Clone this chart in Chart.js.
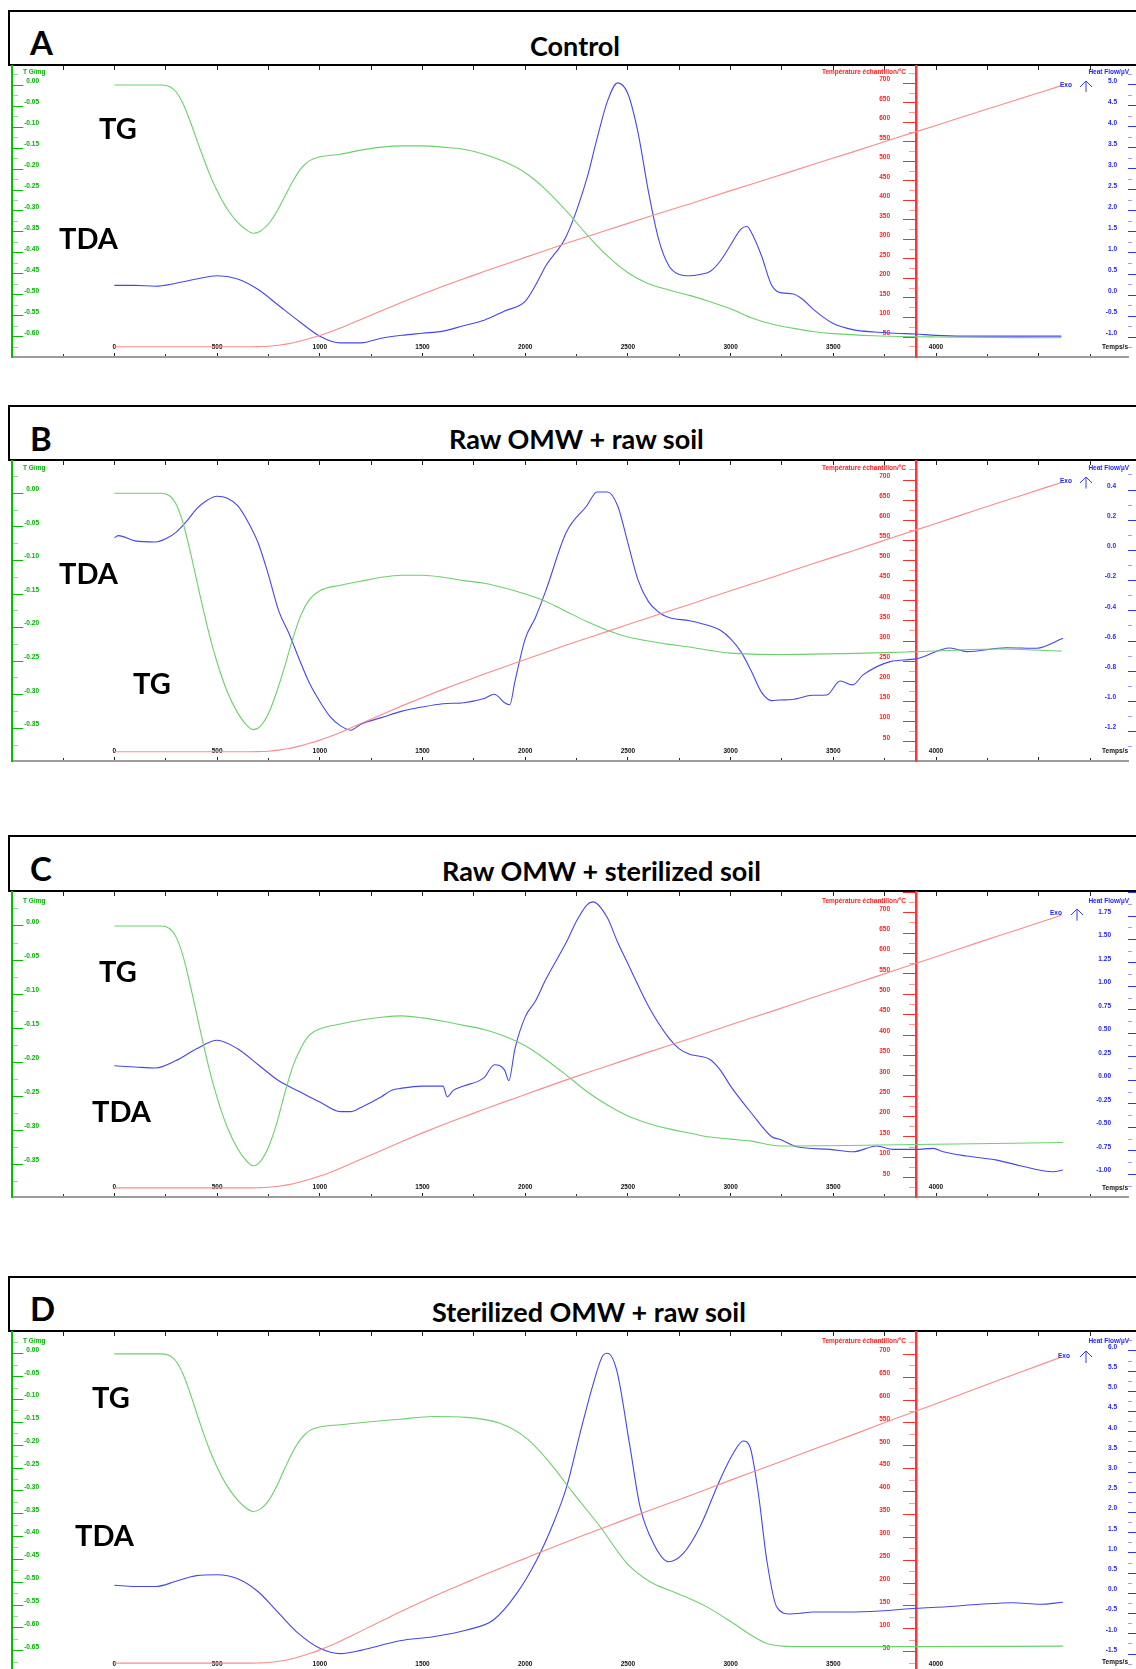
<!DOCTYPE html>
<html>
<head>
<meta charset="utf-8">
<script src="https://cdn.jsdelivr.net/npm/chart.js@4.4.1/dist/chart.umd.min.js"></script>
<style>
  body { margin: 0; width: 1136px; height: 1669px; overflow: hidden; background: #fff; position: relative; }
  .box { position: absolute; left: 8px; width: 1200px; border: 2px solid #000; box-sizing: border-box; }
  .letter { position: absolute; font: 700 33px Lato, sans-serif; line-height: 1; }
  .title { position: absolute; font: 700 27px Lato, sans-serif; line-height: 1; white-space: nowrap; }
  .big { position: absolute; font: 700 29px Lato, sans-serif; line-height: 1; white-space: nowrap; }
  .small { position: absolute; font: 700 6.5px "Liberation Sans", Arial, sans-serif; line-height: 1; white-space: nowrap; }
  .wrap { position: absolute; left: 0; width: 1136px; }
  svg { position: absolute; overflow: visible; }
</style>
</head>
<body>
<script>
// time in s, TG in mg, heat flow in µV, temperature in °C
const timeLabels = [0, 500, 1000, 1500, 2000, 2500, 3000, 3500, 4000];

// sample temperature (same programme for every run)
const tempTime = [0,650,700,750,800,850,900,950,1000,1050,1100,1150,1200,1300,1400,1500,1600,1700,1800,1900,2000,2200,2400,2600,2800,3000,3200,3400,3600,3800,4000,4200,4400,4610];
const tempC = [25,25,25.5,26.5,29,33,39,46,54,63,73,84,95,117,139,160,180,199,218,236,254,290,324,358,391,425,458,492,525,559,592,626,659,694];

// A - Control
const tgTimeA = [0,230,270,300,335,370,417,460,500,550,600,640,675,710,750,790,830,870,910,950,1000,1100,1200,1300,1400,1500,1600,1700,1800,1900,2000,2100,2200,2300,2400,2500,2600,2700,2800,2900,3000,3100,3200,3300,3400,3500,3700,4000,4610];
const tgA = [0,0,-0.004,-0.016,-0.045,-0.088,-0.152,-0.208,-0.252,-0.296,-0.327,-0.344,-0.353,-0.348,-0.331,-0.302,-0.265,-0.228,-0.198,-0.180,-0.171,-0.165,-0.155,-0.148,-0.145,-0.145,-0.148,-0.153,-0.165,-0.183,-0.209,-0.249,-0.300,-0.356,-0.407,-0.447,-0.473,-0.488,-0.501,-0.516,-0.533,-0.554,-0.569,-0.579,-0.587,-0.592,-0.597,-0.600,-0.602];
const hfTimeA = [0,100,200,300,400,500,600,700,800,900,1000,1100,1200,1300,1400,1500,1600,1700,1800,1900,2000,2050,2100,2200,2300,2350,2400,2450,2500,2550,2600,2650,2700,2750,2800,2850,2900,2950,3000,3050,3080,3100,3150,3200,3250,3300,3350,3400,3500,3600,3700,3800,3900,4000,4200,4400,4610];
const hfA = [0.23,0.23,0.21,0.28,0.38,0.46,0.38,0.13,-0.25,-0.63,-0.98,-1.14,-1.14,-1.03,-0.96,-0.91,-0.86,-0.73,-0.60,-0.38,-0.15,0.23,0.69,1.40,2.77,3.73,4.61,5.05,4.79,3.85,2.46,1.32,0.69,0.49,0.46,0.49,0.56,0.81,1.19,1.57,1.63,1.50,0.94,0.23,0.05,0.03,-0.10,-0.33,-0.68,-0.83,-0.88,-0.91,-0.93,-0.96,-0.98,-0.98,-0.98];

// B - Raw OMW + raw soil
const tgTimeB = [0,230,270,300,335,370,417,460,500,550,600,640,675,710,750,790,830,870,910,950,1000,1100,1200,1300,1400,1500,1600,1700,1800,1900,2000,2100,2200,2300,2400,2500,2600,2700,2800,2900,3000,3240,3900,4300,4610];
const tgB = [0,0,-0.004,-0.016,-0.045,-0.088,-0.152,-0.208,-0.252,-0.296,-0.327,-0.344,-0.352,-0.347,-0.328,-0.296,-0.257,-0.215,-0.180,-0.158,-0.145,-0.137,-0.131,-0.125,-0.122,-0.122,-0.125,-0.130,-0.134,-0.141,-0.150,-0.161,-0.176,-0.191,-0.204,-0.214,-0.220,-0.225,-0.229,-0.234,-0.238,-0.240,-0.236,-0.232,-0.235];
const hfTimeB = [0,20,100,200,250,300,350,400,450,500,550,600,650,700,750,800,850,900,950,1000,1050,1100,1150,1200,1300,1400,1500,1600,1700,1800,1850,1900,1925,1950,2000,2050,2100,2200,2300,2350,2400,2450,2500,2550,2600,2650,2700,2800,2900,2950,3000,3050,3100,3150,3200,3240,3300,3400,3468,3533,3594,3645,3777,3902,4068,4150,4344,4490,4618];
const hfB = [0.084,0.098,0.063,0.056,0.077,0.12,0.19,0.275,0.331,0.359,0.345,0.296,0.19,0.049,-0.162,-0.40,-0.55,-0.72,-0.88,-1.0,-1.1,-1.16,-1.19,-1.15,-1.107,-1.064,-1.036,-1.015,-1.008,-0.98,-0.952,-1.008,-1.022,-0.867,-0.585,-0.444,-0.268,0.12,0.296,0.387,0.387,0.296,0.049,-0.198,-0.339,-0.409,-0.444,-0.465,-0.5,-0.529,-0.585,-0.67,-0.797,-0.938,-0.994,-0.99,-0.987,-0.959,-0.957,-0.864,-0.89,-0.824,-0.736,-0.718,-0.646,-0.670,-0.644,-0.648,-0.581];

// C - Raw OMW + sterilized soil
const tgTimeC = [0,230,270,300,335,370,417,460,500,550,600,640,675,710,750,790,830,870,910,950,1000,1100,1200,1300,1400,1500,1600,1700,1800,1900,2000,2100,2200,2300,2400,2500,2600,2700,2800,2900,3000,3100,3240,3902,4618];
const tgC = [0,0,-0.004,-0.016,-0.045,-0.088,-0.152,-0.208,-0.252,-0.296,-0.327,-0.344,-0.352,-0.346,-0.325,-0.290,-0.245,-0.205,-0.178,-0.160,-0.151,-0.144,-0.138,-0.134,-0.132,-0.135,-0.140,-0.146,-0.152,-0.162,-0.176,-0.196,-0.219,-0.243,-0.263,-0.279,-0.290,-0.298,-0.304,-0.310,-0.313,-0.316,-0.323,-0.321,-0.318];
const hfTimeC = [0,100,200,300,400,500,600,700,800,900,1000,1100,1150,1200,1300,1350,1400,1500,1600,1620,1650,1700,1800,1850,1900,1920,1950,2000,2050,2100,2200,2250,2300,2330,2400,2450,2500,2600,2700,2750,2800,2850,2900,2950,3000,3100,3200,3240,3322,3484,3597,3711,3791,3902,3986,4035,4150,4296,4409,4570,4618];
const hfC = [0.155,0.143,0.132,0.211,0.336,0.427,0.336,0.166,-0.004,-0.118,-0.231,-0.333,-0.333,-0.288,-0.174,-0.106,-0.083,-0.061,-0.061,-0.174,-0.106,-0.061,0.03,0.166,0.109,-0.004,0.336,0.676,0.846,1.073,1.47,1.697,1.867,1.901,1.731,1.47,1.243,0.79,0.45,0.336,0.279,0.257,0.223,0.109,-0.061,-0.345,-0.60,-0.628,-0.707,-0.735,-0.76,-0.699,-0.735,-0.735,-0.724,-0.76,-0.806,-0.849,-0.909,-0.973,-0.955];

// D - Sterilized OMW + raw soil
const tgTimeD = [0,230,270,300,335,370,417,460,500,550,600,640,675,710,750,790,830,870,910,950,1000,1100,1390,1553,1715,1877,2007,2121,2234,2364,2494,2608,2738,2884,3013,3111,3176,3257,3338,3902,4618];
const tgD = [0,0,-0.004,-0.016,-0.045,-0.088,-0.152,-0.206,-0.248,-0.290,-0.320,-0.337,-0.345,-0.340,-0.322,-0.290,-0.250,-0.213,-0.185,-0.168,-0.160,-0.155,-0.143,-0.137,-0.139,-0.152,-0.185,-0.239,-0.305,-0.378,-0.458,-0.499,-0.524,-0.554,-0.590,-0.619,-0.634,-0.640,-0.641,-0.641,-0.640];
const hfTimeD = [0,100,200,300,400,500,600,700,800,900,1000,1100,1200,1390,1553,1715,1845,1959,2056,2137,2202,2267,2332,2380,2400,2445,2510,2559,2624,2697,2770,2851,2948,3013,3062,3094,3135,3176,3224,3289,3338,3401,3565,3727,3902,4052,4214,4375,4506,4618];
const hfD = [0.20,0.17,0.17,0.30,0.44,0.46,0.36,0.04,-0.49,-1.01,-1.36,-1.49,-1.41,-1.171,-1.072,-0.906,-0.658,0.002,0.827,1.735,2.641,3.963,5.2,5.901,5.943,5.53,3.631,2.146,1.24,0.785,0.993,1.651,2.807,3.468,3.772,3.631,2.478,0.827,-0.329,-0.51,-0.493,-0.46,-0.46,-0.436,-0.369,-0.329,-0.27,-0.23,-0.27,-0.22];

// layout of each panel (page pixels) and axis ranges
const X0 = -498.5, X1 = 4934.7;      // time at left (x=12) / right (x=1128) edge of plot
const panels = [
  {letter: 'A', title: 'Control', boxTop: 10, top: 66, bottom: 357,
   tg: [-0.6477, 0.0453], tgLow: -0.60, temp: [-1.2, 744.3],
   hf: [-1.476, 5.452], hfStep: 0.5, hfLab: [-1.0, 5.0], hfDigits: 1, hfLabelAt: 1117,
   tgT: tgTimeA, tgV: tgA, hfT: hfTimeA, hfV: hfA,
   letterTop: 25.5, titleLeft: 530, titleTop: 32.4, tgPos: [99, 113.1], tdaPos: [59, 223.1],
   axY: 72, exo: [1060, 85], arrow: [1086, 81, 92], tempsY: 347},
  {letter: 'B', title: 'Raw OMW + raw soil', boxTop: 405, top: 461, bottom: 761,
   tg: [-0.3987, 0.0481], tgLow: -0.35, temp: [2.1, 747.2],
   hf: [-1.394, 0.592], hfStep: 0.2, hfLab: [-1.2, 0.4], hfDigits: 1, hfLabelAt: 1116,
   tgT: tgTimeB, tgV: tgB, hfT: hfTimeB, hfV: hfB,
   letterTop: 422.4, titleLeft: 449, titleTop: 425.4, tgPos: [133, 668.1], tdaPos: [59, 558.1],
   axY: 468.3, exo: [1060, 481], arrow: [1086, 476.7, 488.3], tempsY: 751},
  {letter: 'C', title: 'Raw OMW + sterilized soil', boxTop: 835, top: 892, bottom: 1197,
   tg: [-0.398, 0.0499], tgLow: -0.35, temp: [2.7, 750.8],
   hf: [-1.242, 2.006], hfStep: 0.25, hfLab: [-1.0, 1.75], hfDigits: 2, hfLabelAt: 1111,
   tgT: tgTimeC, tgV: tgC, hfT: hfTimeC, hfV: hfC,
   letterTop: 852.4, titleLeft: 442, titleTop: 857.4, tgPos: [99, 956.1], tdaPos: [92, 1096.1],
   axY: 900.7, exo: [1050, 913.3], arrow: [1076.7, 909, 920.7], tempsY: 1187.7},
  {letter: 'D', title: 'Sterilized OMW + raw soil', boxTop: 1276, top: 1332, bottom: 1674,
   tg: [-0.701, 0.048], tgLow: -0.65, temp: [1.3, 748.7],
   hf: [-1.995, 6.47], hfStep: 0.5, hfLab: [-1.5, 6.0], hfDigits: 1, hfLabelAt: 1117,
   tgT: tgTimeD, tgV: tgD, hfT: hfTimeD, hfV: hfD,
   letterTop: 1292.4, titleLeft: 432, titleTop: 1298.1, tgPos: [92, 1382.1], tdaPos: [75, 1520.1],
   axY: 1341, exo: [1058, 1356], arrow: [1086, 1351, 1363], tempsY: 1662}
];

const tickFont = {family: 'Liberation Sans', weight: 'bold', size: 6.5};
const GREEN = '#00b400', RED = '#ff2020', BLUE = '#2424ff';

function series(times, values) {
  return times.map((t, i) => ({x: t, y: values[i]}));
}

function onStep(v, step) {
  const r = v / step;
  return Math.abs(r - Math.round(r)) < 1e-6;
}

// ticks at exact multiples of step inside [min, max]
function fixedTicks(min, max, step) {
  return scale => {
    const out = [];
    for (let k = Math.ceil(min / step - 1e-9); k * step <= max + 1e-9; k++) {
      out.push({value: +(k * step).toFixed(6)});
    }
    scale.ticks = out;
  };
}

// axis that only draws its tick labels, placed at a page x
function labelAxis(range, px, step, color, fmt) {
  return {
    type: 'linear', axis: 'y', min: range[0], max: range[1], position: {xPix: px},
    afterBuildTicks: fixedTicks(range[0], range[1], step),
    border: {display: false},
    grid: {display: false, drawTicks: false},
    ticks: {autoSkip: false, padding: 0, labelOffset: -4, color: color, font: tickFont, callback: fmt}
  };
}

// axis that only draws tick marks (and optionally its line)
function markAxis(axis, range, at, step, len, color, skipStep, border) {
  return {
    type: 'linear', axis: axis, min: range[0], max: range[1], position: at,
    afterBuildTicks: fixedTicks(range[0], range[1], step),
    border: border || {display: false},
    grid: {display: true, drawOnChartArea: false, drawTicks: true, tickLength: len, tickWidth: 1,
           tickColor: ctx => (skipStep && ctx.tick && onStep(ctx.tick.value, skipStep)) ? 'rgba(0,0,0,0)' : color},
    ticks: {display: false, autoSkip: false}
  };
}

function addText(text, cls, style) {
  const d = document.createElement('div');
  d.className = cls;
  d.textContent = text;
  Object.assign(d.style, style);
  document.body.appendChild(d);
  return d;
}

function drawPanel(p) {
  // header box
  const box = document.createElement('div');
  box.className = 'box';
  box.style.top = p.boxTop + 'px';
  box.style.height = (p.top - p.boxTop) + 'px';
  document.body.appendChild(box);
  addText(p.letter, 'letter', {left: '30px', top: p.letterTop + 'px'});
  addText(p.title, 'title', {left: p.titleLeft + 'px', top: p.titleTop + 'px'});

  // chart
  const pad = 12;
  const wrap = document.createElement('div');
  wrap.className = 'wrap';
  wrap.style.top = (p.top - pad) + 'px';
  wrap.style.height = (p.bottom - p.top + 2 * pad) + 'px';
  const canvas = document.createElement('canvas');
  wrap.appendChild(canvas);
  document.body.appendChild(wrap);

  const line = (data, axis, color) => ({
    data: data, yAxisID: axis, xAxisID: 'x', borderColor: color, borderWidth: 1.1,
    showLine: true, pointRadius: 0, cubicInterpolationMode: 'monotone'
  });

  new Chart(canvas, {
    type: 'scatter',
    data: {datasets: [
      line(series(tempTime, tempC), 'yT', '#ff8a8a'),
      line(series(p.tgT, p.tgV), 'yTG', '#6ad26a'),
      line(series(p.hfT, p.hfV), 'yHF', '#4646f0')
    ]},
    options: {
      responsive: true, maintainAspectRatio: false, animation: false, devicePixelRatio: 1,
      layout: {padding: {left: 12, right: 8, top: pad, bottom: pad}},
      plugins: {legend: {display: false}, tooltip: {enabled: false}},
      scales: {
        // helper scales in page pixels, used only to place the other axes
        xPix: {type: 'linear', axis: 'x', min: 12, max: 1128, display: false},
        yPix: {type: 'linear', axis: 'y', min: p.top, max: p.bottom, reverse: true, display: false},

        x: markAxis('x', [X0, X1], {yPix: p.bottom}, 500, -5, '#222', null,
          {display: true, color: '#9c9c9c', width: 2}),
        xMinor: markAxis('x', [X0, X1], {yPix: p.bottom}, 250, -3, '#333', 500),
        xTop: markAxis('x', [X0, X1], {yPix: p.top}, 250, 4, '#222'),
        xLab: {
          type: 'linear', axis: 'x', min: X0, max: X1, position: {yPix: p.bottom - 14},
          afterBuildTicks: fixedTicks(0, 4000, 500),
          border: {display: false}, grid: {display: false, drawTicks: false},
          ticks: {autoSkip: false, maxRotation: 0, padding: 0, color: '#111', font: tickFont,
                  callback: v => timeLabels.includes(v) ? String(v) : ''}
        },

        yTG: labelAxis(p.tg, 39, 0.05, GREEN,
          v => (v <= 1e-6 && v >= p.tgLow - 1e-6) ? v.toFixed(2) : ''),
        yTGmaj: markAxis('y', p.tg, {xPix: 12}, 0.05, -12, '#00c000', null,
          {display: true, color: '#00c000', width: 2}),
        yTGmin: markAxis('y', p.tg, {xPix: 12}, 0.025, -6, '#8ede8e', 0.05),

        yT: labelAxis(p.temp, 890, 50, RED, v => (v >= 50 && v <= 700) ? String(v) : ''),
        yTmaj: markAxis('y', p.temp, {xPix: 916}, 50, 12, '#ff2a2a', null,
          {display: true, color: '#ff3434', width: 2.5}),
        yTmin: markAxis('y', p.temp, {xPix: 916}, 25, 7, '#ff9a9a', 50),

        yHF: labelAxis(p.hf, p.hfLabelAt, p.hfStep, BLUE,
          v => (v >= p.hfLab[0] - 1e-6 && v <= p.hfLab[1] + 1e-6) ? v.toFixed(p.hfDigits) : ''),
        yHFmaj: markAxis('y', p.hf, {xPix: 1128}, p.hfStep, -8, '#3030ff'),
        yHFmin: markAxis('y', p.hf, {xPix: 1128}, p.hfStep / 2, -4, '#9a9aff', p.hfStep)
      }
    }
  });

  // curve names
  addText('TG', 'big', {left: p.tgPos[0] + 'px', top: p.tgPos[1] + 'px'});
  addText('TDA', 'big', {left: p.tdaPos[0] + 'px', top: p.tdaPos[1] + 'px'});

  // axis titles
  addText('T G/mg', 'small', {left: '23px', top: (p.axY - 3.2) + 'px', color: GREEN});
  addText('Température échantillon/°C', 'small', {right: (1136 - 906) + 'px', top: (p.axY - 3.2) + 'px', color: RED});
  addText('Heat Flow/µV', 'small', {right: (1136 - 1129) + 'px', top: (p.axY - 3.2) + 'px', color: BLUE});
  addText('Temps/s', 'small', {right: (1136 - 1128) + 'px', top: (p.tempsY - 3.2) + 'px', color: '#111'});
  addText('Exo', 'small', {left: p.exo[0] + 'px', top: (p.exo[1] - 3.2) + 'px', color: BLUE});

  const ns = 'http://www.w3.org/2000/svg';
  const svg = document.createElementNS(ns, 'svg');
  const [ax, y0, y1] = p.arrow;
  svg.setAttribute('width', '14');
  svg.setAttribute('height', String(y1 - y0));
  svg.style.left = (ax - 7) + 'px';
  svg.style.top = y0 + 'px';
  svg.innerHTML = '<path d="M7 ' + (y1 - y0) + ' V0 M1 6 L7 0 L13 6" fill="none" stroke="#3a3aff" stroke-width="1"/>';
  document.body.appendChild(svg);
}

panels.forEach(drawPanel);
</script>
</body>
</html>
